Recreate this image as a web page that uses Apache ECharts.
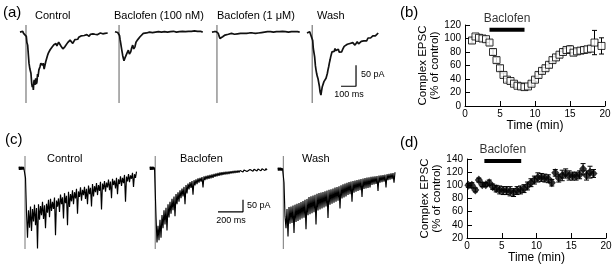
<!DOCTYPE html>
<html>
<head>
<meta charset="utf-8">
<script src="https://cdn.jsdelivr.net/npm/echarts@6/dist/echarts.min.js"></script>
<style>
html, body { margin: 0; padding: 0; background: #fff; }
#main { width: 615px; height: 265px; }
</style>
</head>
<body>
<div id="main"></div>
<script>
// ---- (a) single-sweep traces, [ms, pA] ----
var ctrlA = [[0,0],[6,3],[12,-2],[18,2],[24,-3],[30,1],[36,-1],[42,-10],[46,-25],[51,-31],[56,-55],[60,-74],[66,-88],[73,-98],[78,-122],[82,-131],[86,-125],[89,-138],[92,-120],[95,-114],[100,-126],[105,-110],[109,-124],[113,-119],[117,-100],[120,-107],[126,-90],[133,-83],[139,-74],[145,-71],[150,-79],[155,-74],[161,-88],[167,-86],[172,-70],[178,-67],[184,-55],[189,-50],[195,-52],[201,-42],[207,-43],[213,-36],[220,-38],[226,-30],[233,-31],[240,-27],[246,-33],[251,-29],[258,-24],[267,-26],[273,-33],[280,-31],[286,-40],[293,-43],[299,-35],[305,-36],[311,-31],[318,-25],[327,-24],[334,-19],[340,-22],[345,-21],[352,-27],[360,-26],[366,-18],[372,-16],[378,-14],[385,-17],[392,-12],[400,-12],[407,-9],[414,-13],[420,-10],[428,-8],[438,-12],[446,-6],[453,-7],[461,-10],[470,-5],[478,-7],[486,-4],[494,-7],[500,-5],[508,-3],[515,-6],[520,-2],[528,-5],[536,-2],[545,-2],[552,-4],[560,-1],[567,-3],[575,-1],[585,-2]];
var bac100A = [[0,1],[6,-2],[12,2],[18,-1],[24,1],[30,-8],[34,-18],[38,-26],[44,-40],[51,-55],[56,-63],[60,-68],[66,-62],[73,-59],[80,-50],[89,-43],[96,-52],[105,-47],[111,-38],[118,-31],[125,-40],[133,-35],[140,-24],[149,-19],[157,-15],[167,-11],[176,-8],[189,-3],[198,-6],[211,-2],[220,-4],[230,0],[240,-3],[250,-1],[260,-4],[270,0],[280,-2],[290,1],[300,-3],[310,0],[320,-2],[330,1],[340,-3],[350,0],[360,-2],[370,1],[380,-1],[390,2],[400,-2],[410,0],[420,-3],[430,1],[440,-1],[450,2],[460,-2],[470,1],[480,-1],[490,2],[500,0],[510,2],[520,-1],[530,3],[540,0],[550,2],[560,-1],[570,2],[585,0]];
var bac1A = [[0,0],[7,-2],[14,1],[21,-1],[28,1],[36,-2],[42,-3],[47,-9],[53,-15],[57,-18],[60,-19],[65,-15],[71,-11],[78,-9],[87,-7],[97,-8],[109,-5],[120,-6],[130,-3],[142,-3],[150,-5],[160,-2],[170,-4],[180,-1],[190,-3],[200,0],[210,-3],[220,-1],[230,-3],[240,0],[250,-2],[260,1],[270,-2],[280,0],[290,-3],[300,0],[310,-2],[320,1],[330,-1],[340,-3],[350,0],[360,-2],[370,1],[380,-1],[390,1],[400,-2],[410,0],[420,-2],[430,1],[440,-1],[450,1],[460,-1],[470,2],[480,-1],[490,1],[500,-2],[510,0],[520,-2],[530,1],[540,-1],[550,1],[560,-1],[570,1],[585,0]];
var washA = [[0,-2],[6,2],[12,-1],[18,1],[24,-2],[30,0],[38,-20],[42,-39],[47,-50],[51,-59],[56,-80],[60,-90],[65,-100],[69,-106],[74,-112],[78,-114],[83,-130],[87,-142],[90,-146],[93,-150],[97,-140],[102,-130],[107,-126],[113,-118],[118,-120],[122,-114],[127,-110],[131,-106],[136,-98],[140,-90],[145,-82],[149,-74],[154,-66],[158,-59],[163,-52],[167,-47],[171,-44],[175,-43],[181,-46],[187,-39],[193,-44],[198,-47],[204,-42],[209,-41],[215,-48],[220,-51],[226,-45],[231,-47],[237,-42],[242,-39],[248,-34],[253,-31],[261,-34],[269,-29],[278,-31],[287,-27],[296,-30],[305,-25],[312,-29],[320,-31],[328,-27],[335,-23],[344,-28],[353,-27],[362,-22],[371,-25],[379,-21],[387,-19],[392,-23],[398,-21],[407,-14],[416,-10],[424,-14],[431,-13],[439,-9],[447,-7],[456,-9],[465,-5],[475,-2]];
var artifactA = [40, 27, 33, 35];        // stimulus artefact time, ms
var labelsA = ['Control', 'Baclofen (100 nM)', 'Baclofen (1 \u03bcM)', 'Wash'];

// ---- (c) traces: baseline stub [ms, pA] + samples every 8 ms ----
var sampleMsC = 8;
var ctrlCStub = [[0,6],[3,-7],[6,7],[9,-6],[12,6],[15,-7],[18,6],[21,-6],[24,7],[27,-6],[30,5],[33,-6],[36,6],[40,-5],[44,3]];
var ctrlCStart = 52;
var ctrlCVals = [
    -40,-185,-290,-175,-248,-160,-262,-170,
    -222,-152,-238,-166,-335,-150,-215,-158,
    -196,-140,-212,-155,-250,-148,-186,-132,
    -204,-128,-178,-140,-170,-122,-280,-135,
    -160,-126,-182,-110,-150,-121,-210,-104,
    -146,-115,-238,-98,-162,-108,-138,-92,
    -150,-100,-126,-86,-190,-97,-120,-80,
    -135,-90,-112,-78,-128,-86,-150,-72,
    -108,-82,-160,-66,-118,-75,-100,-62,
    -112,-70,-95,-57,-172,-64,-88,-54,
    -98,-60,-80,-47,-92,-56,-125,-44,
    -70,-52,-84,-40,-108,-46,-66,-34,
    -74,-40,-62,-28,-140,-35,-55,-24,
    -58,-30,-44,-19,-78,-25,-40,-14];
var bacCStub = [[0,6],[3,-7],[6,7],[9,-6],[12,6],[15,-7],[18,6],[21,-6],[24,7],[27,-6],[30,5],[33,-6],[36,3]];
var bacCStart = 48;
var bacCVals = [
    -200,-310,-240,-300,-215,-290,-195,-250,
    -175,-235,-165,-260,-150,-205,-140,-190,
    -128,-175,-118,-200,-108,-150,-100,-140,
    -92,-125,-85,-118,-78,-150,-70,-105,
    -64,-88,-58,-82,-54,-110,-50,-72,
    -46,-66,-42,-60,-40,-56,-37,-80,
    -34,-50,-32,-46,-30,-44,-28,-42,
    -26,-40,-24,-36,-22,-34,-20,-32,
    -18,-30,-17,-28,-16,-26,-15,-25,
    -14,-24,-13,-22,-12,-21,-11,-20,
    -10,-19,-9,-18,-9,-17,-8,-16,
    -7,-15,-6,-14,-6,-13,-5,-12,
    -3,-13,-4,-11,-2,-12,-3,-10,
    -1,-11,-2,-9,0,-10,-1,-8];
var washCStub = [[0,2],[3,-10],[6,3],[9,-9],[12,2],[15,-10],[18,3],[21,-9],[24,2],[27,-10],[30,1],[33,-9],[36,0],[40,-6]];
var washCStart = 48;
var washCVals = [
    -60,-200,-250,-170,-285,-162,-232,-160,
    -228,-156,-270,-152,-224,-148,-220,-145,
    -215,-141,-210,-137,-206,-132,-255,-128,
    -196,-120,-192,-117,-188,-114,-184,-111,
    -235,-107,-176,-104,-172,-101,-168,-99,
    -164,-96,-160,-93,-208,-90,-152,-88,
    -148,-85,-144,-81,-140,-78,-136,-75,
    -168,-71,-126,-67,-122,-64,-118,-61,
    -112,-58,-108,-56,-140,-53,-102,-51,
    -98,-49,-95,-47,-92,-45,-120,-43,
    -86,-41,-84,-39,-82,-38,-80,-36,
    -70,-35,-68,-34,-66,-33,-95,-31,
    -60,-30,-58,-29,-56,-27,-80,-25,
    -50,-23,-48,-21,-46,-20,-60,-17];
var artifactC = [48, 42, 43];
var labelsC = ['Control', 'Baclofen', 'Wash'];

// ---- (b) time course, % of control ----
var bTime  = [1,1.5,2,2.5,3,3.5,4,4.5,5,5.5,6,6.5,7,7.5,8,8.5,9,9.5,10,10.5,11,11.5,12,12.5,13,13.5,14,14.5,15,15.5,16,16.5,17,17.5,18,18.5,19.5];
var bValue = [97,103,101,100,99,94,80,68,56,46,39,37,33,30,29,28,29,33,39,46,52,56,61,68,72,76,80,83,84,79,81,82,83,84,85,94,89];
var bErr   = [4,3,3,3,3,4,4,4,4,3,3,3,3,3,3,3,3,3,3,4,4,4,4,4,4,4,4,4,5,4,4,4,4,4,4,18,12];
var bDrug  = [3.5, 8.5];

// ---- (d) time course, % of control ----
var dTime  = [0.2,0.7,1.2,1.7,2.2,2.7,3.2,3.7,4.2,4.7,5.2,5.7,6.2,6.7,7.2,7.7,8.2,8.7,9.2,9.7,10.2,10.7,11.2,11.7,12.2,12.7,13.2,13.7,14.2,14.7,15.2,15.7,16.2,16.7,17.2,17.7,18.2];
var dValue = [100,100,93,108,101,101,104,98,95,93,92,92,91,89,92,93,95,99,104,108,112,112,111,110,104,119,111,115,118,115,114,114,116,125,115,120,118];
var dErr   = [3,4,3,3,3,3,4,4,5,6,6,6,7,6,6,6,6,6,6,6,7,6,6,6,5,5,6,8,7,7,6,6,6,8,7,9,6];
var dDrug  = [2.5, 7.8];

var FONT = 'Liberation Sans, Arial, sans-serif';

var grids = [], xAxes = [], yAxes = [], series = [], graphics = [];

function addTraceGrid(left, top, width, height, xMax, yMin, yMax) {
    grids.push({ left: left, top: top, width: width, height: height });
    var i = grids.length - 1;
    xAxes.push({ gridIndex: i, type: 'value', min: 0, max: xMax, show: false });
    yAxes.push({ gridIndex: i, type: 'value', min: yMin, max: yMax, show: false });
    return i;
}
function addLine(idx, data, color, width) {
    series.push({
        type: 'line', xAxisIndex: idx, yAxisIndex: idx, data: data,
        symbol: 'none', silent: true, animation: false, clip: false,
        lineStyle: { color: color, width: width }
    });
}
function sampled(start, vals) {
    return vals.map(function (v, k) { return [start + k * sampleMsC, v]; });
}
function text(str, x, y, size, align) {
    graphics.push({
        type: 'text', x: x, y: y, silent: true,
        style: { text: str, font: size + 'px ' + FONT, fill: '#000', align: align || 'left', verticalAlign: 'middle' }
    });
}

// (a) grids: 100 ms = 15 px, 50 pA = 21 px
var aTop = 25, aH = 78, aYMin = -169, aYMax = 17;
var aLeft = [20, 115, 212, 307];
var aTraces = [ctrlA, bac100A, bac1A, washA];
aTraces.forEach(function (tr, k) {
    var g = addTraceGrid(aLeft[k], aTop, 88, aH, 587, aYMin, aYMax);
    addLine(g, [[artifactA[k], aYMax], [artifactA[k], aYMin]], '#8c8c8c', 1.4);
    addLine(g, tr, '#111', 1.7);
    if (k === 3) {
        // scale bar 100 ms / 50 pA
        addLine(g, [[227, -129], [327, -129], [327, -79]], '#000', 1.2);
    }
});

// (c) grids: 200 ms = 25 px, 50 pA = 12 px
var cTop = 156, cH = 93, cYMin = -337, cYMax = 51;
var cLeft = [19, 150, 278];
var cStubs = [ctrlCStub, bacCStub, washCStub];
var cStarts = [ctrlCStart, bacCStart, washCStart];
var cVals = [ctrlCVals, bacCVals, washCVals];
cLeft.forEach(function (l, k) {
    var g = addTraceGrid(l, cTop, 120, cH, 960, cYMin, cYMax);
    addLine(g, [[artifactC[k], cYMax], [artifactC[k], cYMin]], '#8c8c8c', 1.2);
    addLine(g, cStubs[k].concat(sampled(cStarts[k], cVals[k])), '#000', 1.15);
    if (k === 1) {
        addLine(g, [[544, -182], [744, -182], [744, -132]], '#000', 1.2);
    }
});

// (b), (d) time-course charts
function addTimeChart(left, top, width, height, yMin, yMax, times, vals, errs, drug, barY, sym) {
    grids.push({ left: left, top: top, width: width, height: height });
    var i = grids.length - 1;
    var axisCommon = {
        gridIndex: i, type: 'value',
        axisLine: { lineStyle: { color: '#000', width: 1 } },
        axisTick: { inside: true, length: 5, lineStyle: { color: '#000' } },
        axisLabel: { color: '#000', fontSize: 10, fontFamily: FONT },
        splitLine: { show: false }
    };
    xAxes.push(Object.assign({}, axisCommon, {
        min: 0, max: 20, interval: 5,
        axisLabel: Object.assign({}, axisCommon.axisLabel, { margin: 3 }),
        name: 'Time (min)', nameLocation: 'middle', nameGap: yMin === 0 ? 12 : 9,
        nameTextStyle: { color: '#000', fontSize: 12, fontFamily: FONT }
    }));
    yAxes.push(Object.assign({}, axisCommon, {
        min: yMin, max: yMax, interval: 20,
        axisLabel: Object.assign({}, axisCommon.axisLabel, { margin: 4 }),
        name: 'Complex EPSC\n(% of control)', nameLocation: 'middle', nameGap: 21, nameRotate: 90,
        nameTextStyle: { color: '#000', fontSize: 11.5, fontFamily: FONT, lineHeight: 12 }
    }));
    var pts = times.map(function (t, k) { return [t, vals[k], errs[k]]; });
    series.push({
        type: 'custom', xAxisIndex: i, yAxisIndex: i, data: pts, silent: true, z: 2,
        renderItem: function (params, api) {
            var x = api.value(0), v = api.value(1), e = api.value(2);
            var top = api.coord([x, v + e]), bot = api.coord([x, v - e]);
            var st = { stroke: '#000', lineWidth: 1 };
            return { type: 'group', children: [
                { type: 'line', shape: { x1: top[0], y1: top[1], x2: bot[0], y2: bot[1] }, style: st },
                { type: 'line', shape: { x1: top[0] - 2.5, y1: top[1], x2: top[0] + 2.5, y2: top[1] }, style: st },
                { type: 'line', shape: { x1: bot[0] - 2.5, y1: bot[1], x2: bot[0] + 2.5, y2: bot[1] }, style: st }
            ] };
        }
    });
    series.push({
        type: 'scatter', xAxisIndex: i, yAxisIndex: i, data: pts, silent: true, z: 3,
        symbol: sym.symbol, symbolSize: sym.size, itemStyle: sym.style
    });
    // drug application bar
    series.push({
        type: 'line', xAxisIndex: i, yAxisIndex: i, silent: true, symbol: 'none', clip: false,
        data: [[drug[0], barY], [drug[1], barY]], lineStyle: { color: '#000', width: 4 }
    });
    series.push({
        type: 'scatter', xAxisIndex: i, yAxisIndex: i, silent: true, symbolSize: 0,
        data: [[(drug[0] + drug[1]) / 2, barY]],
        label: { show: true, position: 'top', distance: 5, formatter: 'Baclofen', color: '#000', fontSize: 12, fontFamily: FONT }
    });
}
addTimeChart(465, 25, 140, 81, 0, 120, bTime, bValue, bErr, bDrug, 113,
    { symbol: 'rect', size: 7, style: { color: '#fff', borderColor: '#000', borderWidth: 1 } });
addTimeChart(467, 159, 139, 79, 20, 140, dTime, dValue, dErr, dDrug, 137,
    { symbol: 'diamond', size: [8, 9], style: { color: '#000' } });

// panel letters and trace labels
text('(a)', 3, 13, 15);
text('(b)', 400, 13, 15);
text('(c)', 5, 140, 15);
text('(d)', 400, 143, 15);
var aLabelX = [35, 114, 217, 317];
labelsA.forEach(function (s, k) { text(s, aLabelX[k], 16, 11); });
var cLabelX = [47, 180, 302];
labelsC.forEach(function (s, k) { text(s, cLabelX[k], 159, 11); });
text('50 pA', 361, 75, 9);
text('100 ms', 349, 95, 9, 'center');
text('50 pA', 247, 206, 9);
text('200 ms', 231, 221, 9, 'center');

var myChart = echarts.init(document.getElementById('main'));
myChart.setOption({
    animation: false,
    grid: grids,
    xAxis: xAxes,
    yAxis: yAxes,
    series: series,
    graphic: graphics
});
</script>
</body>
</html>
